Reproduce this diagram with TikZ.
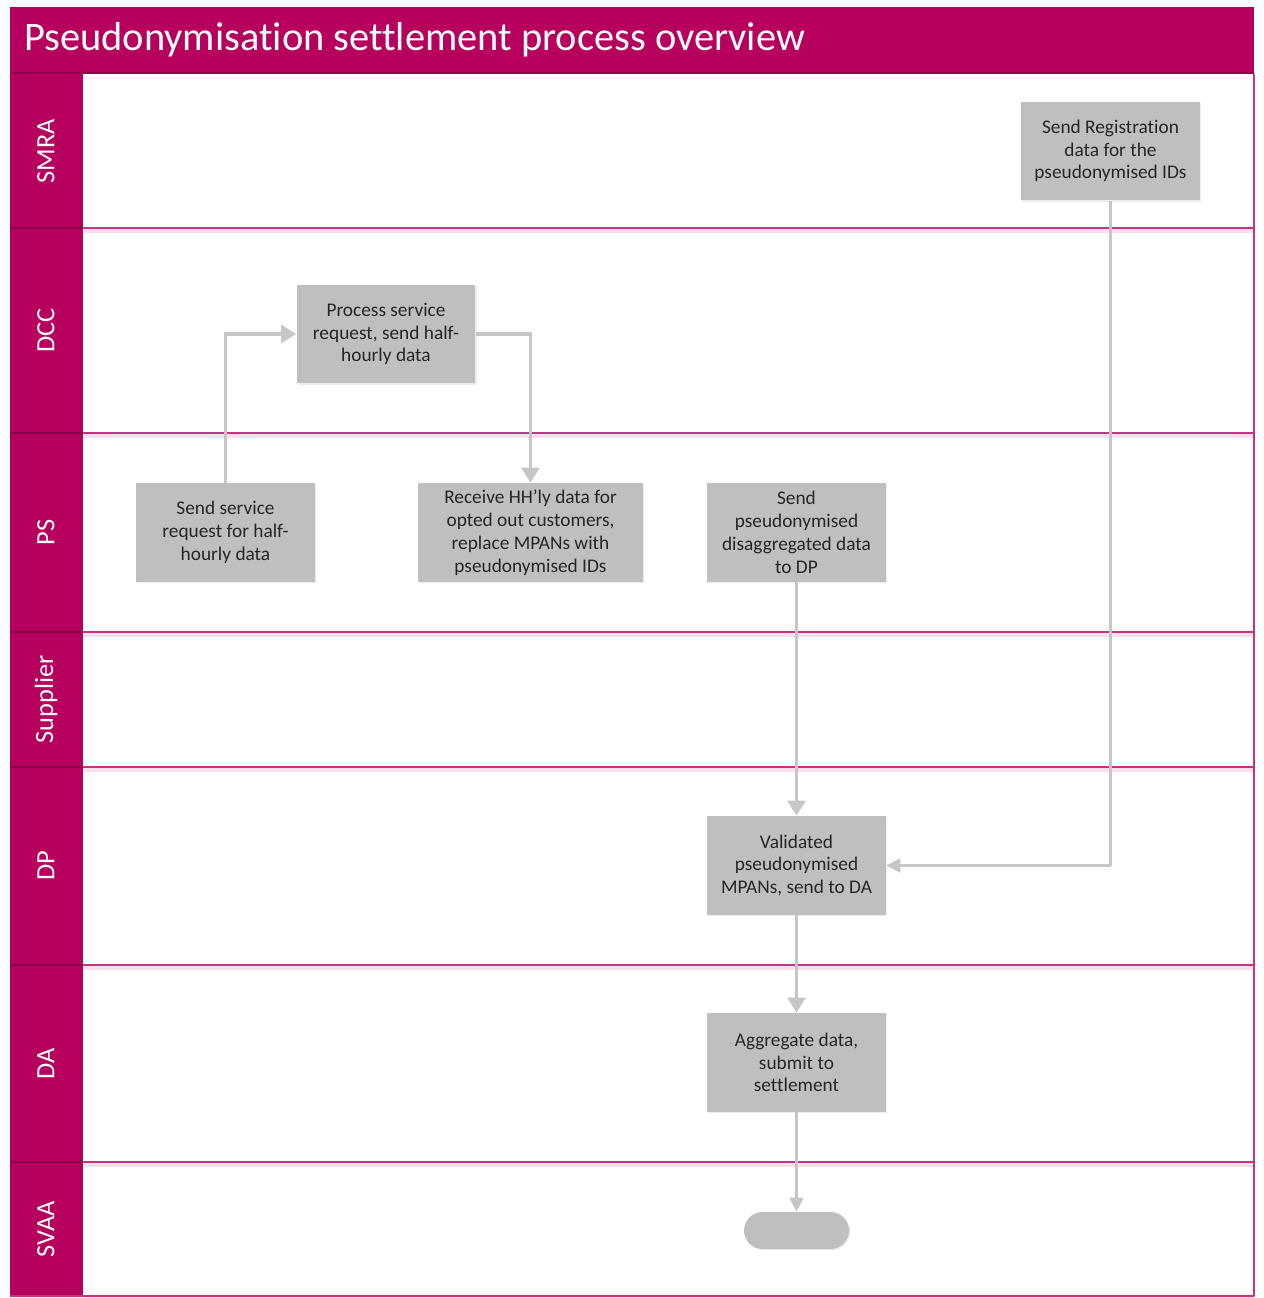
\documentclass[tikz,border=0pt]{standalone}
\usepackage{fontspec}
\setmainfont{Carlito}[Ligatures=CommonOff]
\usetikzlibrary{arrows.meta,shadows}
\definecolor{swimmag}{RGB}{183,0,93}
\definecolor{swimline}{RGB}{196,52,128}
\definecolor{swimpink}{RGB}{250,222,236}
\definecolor{boxgray}{RGB}{191,191,191}
\definecolor{flowgray}{RGB}{198,198,198}
\definecolor{boxtext}{RGB}{38,38,38}
\begin{document}
\begin{tikzpicture}[x=0.02cm,y=-0.02cm,line join=round,
	stepbox/.style={fill=boxgray,text=boxtext,align=center,minimum width=3.58cm,minimum height=1.98cm,inner sep=2pt,
		font=\fontsize{11}{13}\selectfont,drop shadow={opacity=0.15,shadow xshift=0.7pt,shadow yshift=-0.7pt}},
	flow/.style={draw=flowgray,line width=2.2pt,-{Triangle[width=10pt,length=8.5pt]}},
	thinflow/.style={draw=flowgray,line width=1.2pt,-{Triangle[width=8pt,length=8pt]}},
	lanename/.style={rotate=90,text=white,font=\fontsize{15}{18}\selectfont}]
	\useasboundingbox (0,0) rectangle (1264,1298);
	% Khung, tiêu đề và cột tên làn
	\fill[swimmag] (10,7) rectangle (1254,74);
	\fill[swimmag] (10,74) rectangle (83,1296);
	\draw[swimmag!80!black,line width=0.6pt] (10,73) -- (1254,73);
	\node[anchor=west,text=white,font=\fontsize{23}{27}\selectfont] (title) at (18,40) {Pseudonymisation settlement process overview};
	% Các làn
	\foreach \lname/\ltop/\lbot in {SMRA/74/228,DCC/228/433,PS/433/632,Supplier/632/767,DP/767/965,DA/965/1162,SVAA/1162/1296}
	{
		\fill[swimpink] (84,\lbot) rectangle (1253,\lbot+5);
		\draw[swimline,line width=0.9pt] (83,\lbot) -- (1254,\lbot);
		\draw[swimmag!75!black,line width=0.6pt] (10,\lbot) -- (83,\lbot);
		\node[lanename] (lane\lname) at (46,{(\ltop+\lbot)/2}) {\lname};
	}
	\draw[swimline,line width=0.9pt] (1254,74) -- (1254,1296) -- (10,1296);
	% Các bước
	\node[stepbox] (reg) at (1110.5,151) {Send Registration\\data for the\\pseudonymised IDs};
	\node[stepbox] (proc) at (386,334) {Process service\\request, send half-\\hourly data};
	\node[stepbox] (req) at (225.5,532.5) {Send service\\request for half-\\hourly data};
	\node[stepbox,minimum width=4.5cm] (recv) at (530.5,532.5) {Receive HH’ly data for\\opted out customers,\\replace MPANs with\\pseudonymised IDs};
	\node[stepbox] (send) at (796.5,532.5) {Send\\pseudonymised\\disaggregated data\\to DP};
	\node[stepbox] (valid) at (796.5,865.5) {Validated\\pseudonymised\\MPANs, send to DA};
	\node[stepbox] (agg) at (796.5,1062.5) {Aggregate data,\\submit to\\settlement};
	\node[fill=boxgray,rounded corners=0.37cm,minimum width=2.1cm,minimum height=0.74cm,
		drop shadow={opacity=0.15,shadow xshift=0.7pt,shadow yshift=-0.7pt}] (stop) at (796.5,1230.5) {};
	% Mũi tên
	\draw[flow] (req.north) |- (proc.west);
	\draw[flow] (proc.east) -| (recv.north);
	\draw[flow] (send.south) -- (valid.north);
	\draw[thinflow] (reg.south) |- (valid.east);
	\draw[flow] (valid.south) -- (agg.north);
	\draw[thinflow] (agg.south) -- (stop.north);
\end{tikzpicture}
\end{document}
